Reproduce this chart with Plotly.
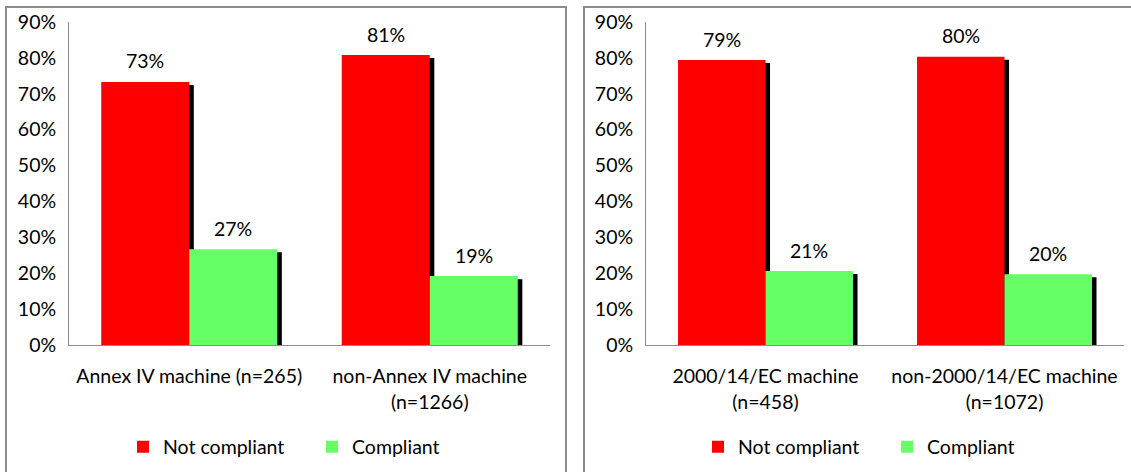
import plotly.graph_objects as go

# ---- data ----
left_categories = ["Annex IV machine (n=265)", "non-Annex IV machine<br>(n=1266)"]
left_not_compliant = [73.3, 80.8]
left_compliant = [26.7, 19.2]

right_categories = ["2000/14/EC machine<br>(n=458)", "non-2000/14/EC machine<br>(n=1072)"]
right_not_compliant = [79.4, 80.3]
right_compliant = [20.6, 19.7]

series_names = ["Not compliant", "Compliant"]
y_ticks = [0, 10, 20, 30, 40, 50, 60, 70, 80, 90]
y_tick_labels = ["0%", "10%", "20%", "30%", "40%", "50%", "60%", "70%", "80%", "90%"]

# ---- style ----
FONT = "Lato"
FS = 19.5
RED = "#ff0000"
GREEN = "#66ff66"
W = 1131
H = 472
BAR_W = 0.366
SH_DX = 0.019     # shadow shift (category units)
SH_DY = 0.85      # shadow drop (axis units)

fig = go.Figure()

panels = [
    (left_categories, left_not_compliant, left_compliant, "x", "y", "legend"),
    (right_categories, right_not_compliant, right_compliant, "x2", "y2", "legend2"),
]

annotations = []
for cats, nc, c, xa, ya, lg in panels:
    idx = list(range(len(cats)))
    x_red = [i - BAR_W / 2 for i in idx]
    x_green = [i + BAR_W / 2 for i in idx]
    # shadows
    for xs, vals in ((x_red, nc), (x_green, c)):
        fig.add_trace(go.Bar(
            x=[v + SH_DX for v in xs], y=[v - SH_DY for v in vals], width=BAR_W,
            marker=dict(color="black", line=dict(width=0)),
            showlegend=False, hoverinfo="skip", xaxis=xa, yaxis=ya,
        ))
    fig.add_trace(go.Bar(
        x=x_red, y=nc, width=BAR_W, name=series_names[0],
        marker=dict(color=RED, line=dict(width=0)),
        xaxis=xa, yaxis=ya, legend=lg,
    ))
    fig.add_trace(go.Bar(
        x=x_green, y=c, width=BAR_W, name=series_names[1],
        marker=dict(color=GREEN, line=dict(width=0)),
        xaxis=xa, yaxis=ya, legend=lg,
    ))
    for xs, vals in ((x_red, nc), (x_green, c)):
        for xv, v in zip(xs, vals):
            annotations.append(dict(
                x=xv, y=v, xref=xa, yref=ya, text=f"{round(v)}%",
                showarrow=False, yanchor="middle", yshift=21,
                font=dict(family=FONT, size=FS, color="black"),
            ))

axis_common = dict(
    showline=True, linecolor="#8c8c8c", linewidth=1, showgrid=False,
    zeroline=False, ticks="", automargin=False,
    tickfont=dict(family=FONT, size=FS, color="black"),
)

ydom = [1 - 345 / H, 1 - 22 / H]
legend_common = dict(orientation="h", y=1 - 447 / H, yanchor="middle", xanchor="center",
                     font=dict(family=FONT, size=FS, color="black"), entrywidth=144,
                     itemwidth=30, bgcolor="rgba(0,0,0,0)")
fig.update_layout(
    width=W, height=H,
    margin=dict(l=0, r=0, t=0, b=0, autoexpand=False),
    paper_bgcolor="white", plot_bgcolor="white",
    barmode="overlay",
    font=dict(family=FONT, size=FS, color="black"),
    xaxis=dict(domain=[69 / W, 550 / W], range=[-0.5, 1.5],
               tickvals=list(range(len(left_categories))), ticktext=left_categories,
               ticklabelstandoff=14, anchor="y", **axis_common),
    yaxis=dict(domain=ydom, range=[0, 90], tickvals=y_ticks, ticktext=y_tick_labels,
               ticklabelstandoff=8, anchor="x", **axis_common),
    xaxis2=dict(domain=[646 / W, 1124 / W], range=[-0.5, 1.5],
                tickvals=list(range(len(right_categories))), ticktext=right_categories,
                ticklabelstandoff=14, anchor="y2", **axis_common),
    yaxis2=dict(domain=ydom, range=[0, 90], tickvals=y_ticks, ticktext=y_tick_labels,
                ticklabelstandoff=8, anchor="x2", **axis_common),
    legend=dict(x=312 / W, **legend_common),
    legend2=dict(x=887 / W, **legend_common),
    annotations=annotations,
    shapes=[
        dict(type="rect", xref="paper", yref="paper", x0=6 / W, x1=566 / W,
             y0=-0.05, y1=1 - 7 / H, line=dict(color="#8c8c8c", width=2)),
        dict(type="rect", xref="paper", yref="paper", x0=584 / W, x1=1.05,
             y0=-0.05, y1=1 - 7 / H, line=dict(color="#8c8c8c", width=2)),
    ],
)

fig.write_html(
    "out.html",
    config={"displayModeBar": False},
    post_script="document.body.style.margin='0';document.body.style.overflow='hidden';",
)
